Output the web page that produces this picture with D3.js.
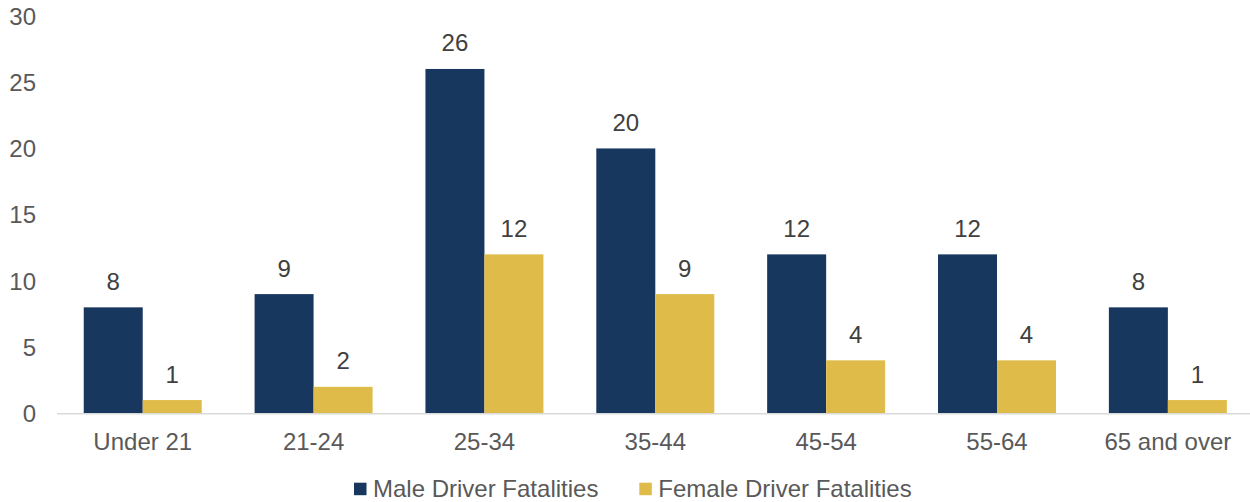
<!DOCTYPE html>
<html><head><meta charset="utf-8">
<script src="https://cdn.jsdelivr.net/npm/d3@7"></script>
<style>
html,body{margin:0;padding:0;background:#fff;}
svg text{font-family:"Liberation Sans",Arial,sans-serif;}
</style></head>
<body><svg id="c" width="1250" height="502"></svg>
<script>
const categories = ["Under 21","21-24","25-34","35-44","45-54","55-64","65 and over"];
const seriesNames = ["Male Driver Fatalities","Female Driver Fatalities"];
const maleValues = [8,9,26,20,12,12,8];
const femaleValues = [1,2,12,9,4,4,1];
const yTicks = [0,5,10,15,20,25,30];
const colors = ["#17375e","#dfbc4a"];

const svg = d3.select("#c");
const y = d3.scaleLinear().domain([0,30]).range([413.3,16]);
const x0 = d3.scaleBand().domain(categories).range([57.3,1253.3]).padding(0);
const x1 = d3.scaleBand().domain(seriesNames).range([0,x0.bandwidth()]).paddingInner(0).paddingOuter(0.448);
const data = categories.map((c,i)=>({cat:c, vals:[maleValues[i],femaleValues[i]]}));

// y tick labels
svg.append("g").selectAll("text").data(yTicks).join("text")
  .attr("x",36).attr("y",d=>y(d)).attr("dy","0.36em")
  .attr("text-anchor","end").attr("font-size",24).attr("fill","#595959")
  .text(d=>d);

// bars
const g = svg.append("g").selectAll("g").data(data).join("g")
  .attr("transform",d=>`translate(${x0(d.cat)},0)`);
g.selectAll("rect").data(d=>d.vals.map((v,j)=>({s:seriesNames[j],v,j}))).join("rect")
  .attr("x",d=>x1(d.s)).attr("width",x1.bandwidth())
  .attr("y",d=>y(d.v)).attr("height",d=>y(0)-y(d.v))
  .attr("fill",d=>colors[d.j]);
g.selectAll("text").data(d=>d.vals.map((v,j)=>({s:seriesNames[j],v,j}))).join("text")
  .attr("x",d=>x1(d.s)+x1.bandwidth()/2).attr("y",d=>y(d.v)-17.5)
  .attr("text-anchor","middle").attr("font-size",24).attr("fill","#404040")
  .text(d=>d.v);

// x axis line
svg.append("line").attr("x1",57).attr("x2",1250).attr("y1",413.8).attr("y2",413.8)
  .attr("stroke","#d9d9d9").attr("stroke-width",1.5);

// x labels
svg.append("g").selectAll("text").data(categories).join("text")
  .attr("x",d=>x0(d)+x0.bandwidth()/2).attr("y",449.5)
  .attr("text-anchor","middle").attr("font-size",24).attr("fill","#595959")
  .text(d=>d);

// legend
const legendX = [354,639.3];
const lg = svg.append("g").selectAll("g").data(seriesNames).join("g")
  .attr("transform",(d,i)=>`translate(${legendX[i]},0)`);
lg.append("rect").attr("x",0).attr("y",482.7).attr("width",12.5).attr("height",12.5)
  .attr("fill",(d,i)=>colors[i]);
lg.append("text").attr("x",19).attr("y",496.7).attr("font-size",24).attr("fill","#595959")
  .text(d=>d);
</script></body></html>
